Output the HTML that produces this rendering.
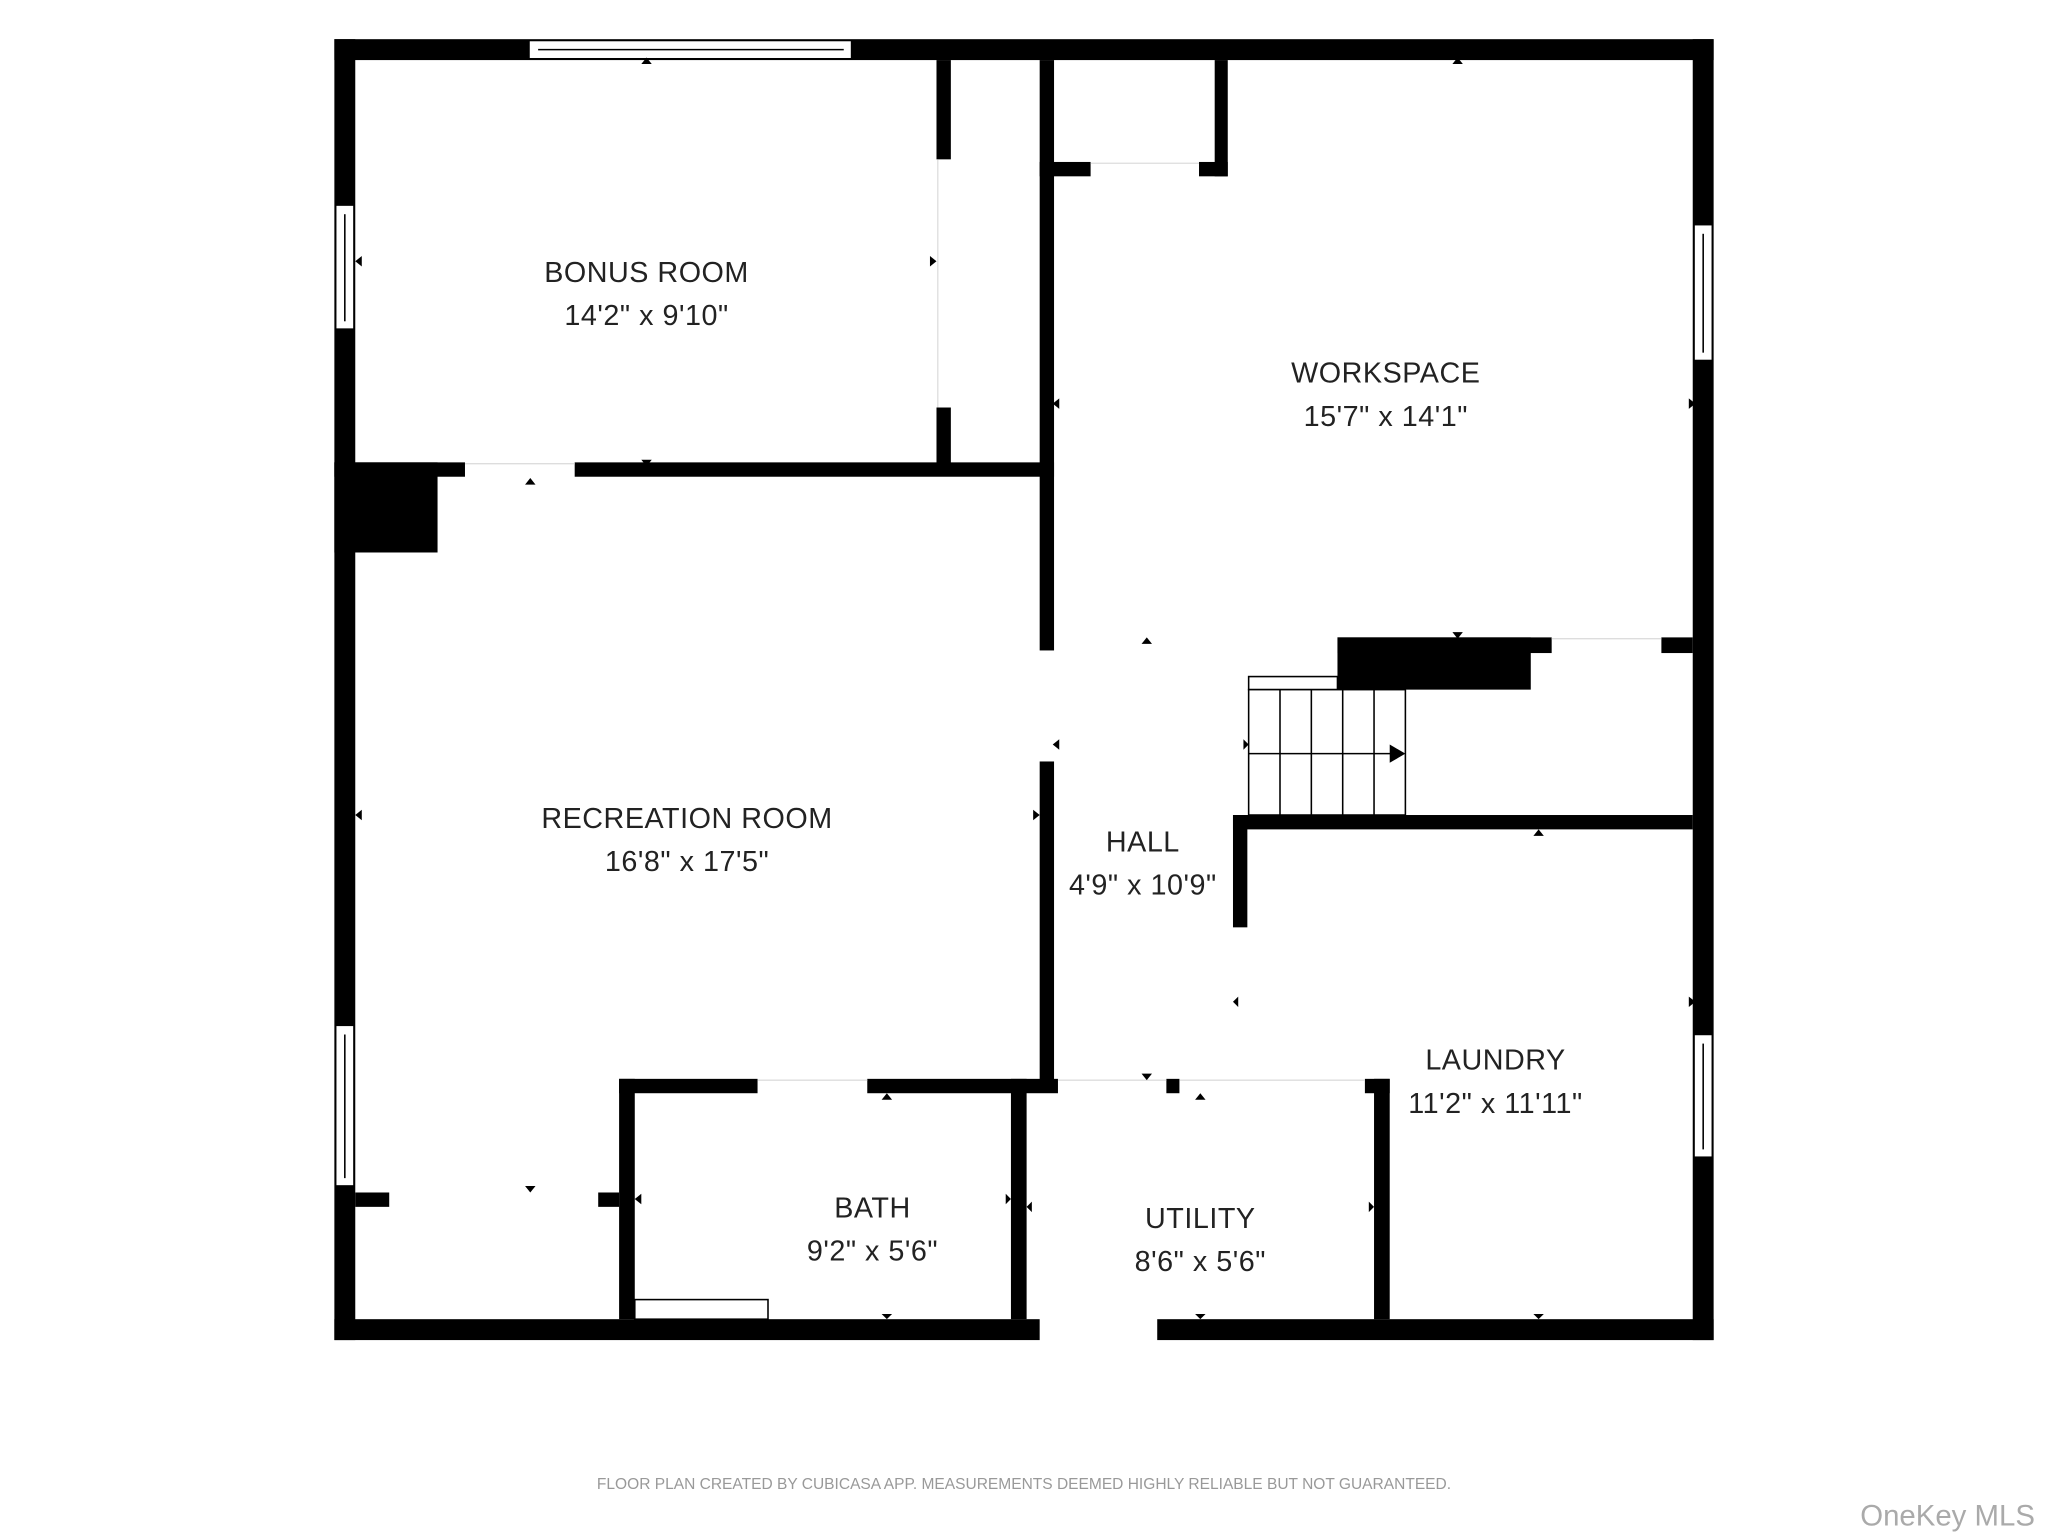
<!DOCTYPE html>
<html><head><meta charset="utf-8"><style>
html,body{margin:0;padding:0;background:#fff;}
svg{display:block;}
text{font-family:"Liberation Sans",sans-serif;}
</style></head><body>
<svg width="2048" height="1536" viewBox="0 0 1568 1176" xmlns="http://www.w3.org/2000/svg">
<rect width="1568" height="1176" fill="#fff"/>
<g fill="#000">
<rect x="256" y="30" width="1056" height="16"/>
<rect x="256" y="30" width="16" height="996"/>
<rect x="1296" y="30" width="16" height="996"/>
<rect x="256" y="1010" width="540" height="16"/>
<rect x="886" y="1010" width="426" height="16"/>
<rect x="256" y="354" width="100" height="11"/>
<rect x="440" y="354" width="367" height="11"/>
<rect x="256" y="354" width="79" height="69"/>
<rect x="717" y="46" width="11" height="76"/>
<rect x="717" y="312" width="11" height="48"/>
<rect x="796" y="46" width="11" height="452"/>
<rect x="796" y="583" width="11" height="250"/>
<rect x="796" y="124" width="39" height="11"/>
<rect x="918" y="124" width="22" height="11"/>
<rect x="930" y="46" width="10" height="89"/>
<rect x="1024" y="488" width="164" height="12"/>
<rect x="1024" y="488" width="148" height="40"/>
<rect x="1272" y="488" width="24" height="12"/>
<rect x="944" y="624" width="352" height="11"/>
<rect x="944" y="624" width="11" height="86"/>
<rect x="474" y="826" width="106" height="11"/>
<rect x="664" y="826" width="146" height="11"/>
<rect x="893" y="826" width="10" height="11"/>
<rect x="1045" y="826" width="19" height="11"/>
<rect x="474" y="826" width="12" height="184"/>
<rect x="458" y="913" width="16" height="11"/>
<rect x="272" y="913" width="26" height="11"/>
<rect x="774" y="826" width="12" height="184"/>
<rect x="1052" y="826" width="12" height="184"/>
</g>
<g fill="#fff" stroke="#000" stroke-width="1.2">
<rect x="405" y="31" width="247" height="14"/>
<line x1="412" y1="38" x2="646" y2="38"/>
<rect x="257" y="157" width="14" height="95"/>
<line x1="264" y1="164" x2="264" y2="246"/>
<rect x="257" y="785" width="14" height="123"/>
<line x1="264" y1="792" x2="264" y2="902"/>
<rect x="1297" y="172" width="14" height="104"/>
<line x1="1304" y1="179" x2="1304" y2="270"/>
<rect x="1297" y="792" width="14" height="94"/>
<line x1="1304" y1="799" x2="1304" y2="880"/>
<rect x="486" y="995" width="102" height="15"/>
<rect x="956" y="518" width="68" height="10"/>
<rect x="956" y="528" width="120" height="96"/>
</g>
<g stroke="#000" stroke-width="1.2">
<line x1="980" y1="528" x2="980" y2="624"/>
<line x1="1004" y1="528" x2="1004" y2="624"/>
<line x1="1028" y1="528" x2="1028" y2="624"/>
<line x1="1052" y1="528" x2="1052" y2="624"/>
<line x1="956" y1="577" x2="1068" y2="577"/>
</g>
<g stroke="#ddd" stroke-width="1">
<line x1="356" y1="355" x2="440" y2="355"/>
<line x1="835" y1="125" x2="918" y2="125"/>
<line x1="1188" y1="489" x2="1272" y2="489"/>
<line x1="580" y1="827" x2="664" y2="827"/>
<line x1="810" y1="827" x2="893" y2="827"/>
<line x1="903" y1="827" x2="1045" y2="827"/>
<line x1="718" y1="122" x2="718" y2="312"/>
</g>
<g fill="#000">
<polygon points="1064,570 1076,577 1064,584"/>
<polygon points="491,49 499,49 495,44"/>
<polygon points="491,352 499,352 495,357"/>
<polygon points="402,371 410,371 406,366"/>
<polygon points="277,196 277,204 272,200"/>
<polygon points="712,196 712,204 717,200"/>
<polygon points="1112,49 1120,49 1116,44"/>
<polygon points="811,305 811,313 806,309"/>
<polygon points="1293,305 1293,313 1298,309"/>
<polygon points="1112,484 1120,484 1116,489"/>
<polygon points="874,493 882,493 878,488"/>
<polygon points="811,566 811,574 806,570"/>
<polygon points="952,566 952,574 956,570"/>
<polygon points="277,620 277,628 272,624"/>
<polygon points="791,620 791,628 796,624"/>
<polygon points="1174,640 1182,640 1178,635"/>
<polygon points="948,763 948,771 944,767"/>
<polygon points="1293,763 1293,771 1298,767"/>
<polygon points="874,822 882,822 878,827"/>
<polygon points="915,842 923,842 919,837"/>
<polygon points="675,842 683,842 679,837"/>
<polygon points="402,908 410,908 406,913"/>
<polygon points="491,914 491,922 486,918"/>
<polygon points="770,914 770,922 774,918"/>
<polygon points="790,920 790,928 786,924"/>
<polygon points="1048,920 1048,928 1052,924"/>
<polygon points="675,1006 683,1006 679,1010"/>
<polygon points="915,1006 923,1006 919,1010"/>
<polygon points="1174,1006 1182,1006 1178,1010"/>
</g>
<g font-size="22" fill="#222" text-anchor="middle" letter-spacing="0.4">
<text x="495" y="216">BONUS ROOM</text>
<text x="495" y="249">14'2" x 9'10"</text>
<text x="1061" y="293">WORKSPACE</text>
<text x="1061" y="326">15'7" x 14'1"</text>
<text x="526" y="634">RECREATION ROOM</text>
<text x="526" y="667">16'8" x 17'5"</text>
<text x="875" y="652">HALL</text>
<text x="875" y="685">4'9" x 10'9"</text>
<text x="1145" y="819">LAUNDRY</text>
<text x="1145" y="852">11'2" x 11'11"</text>
<text x="668" y="932">BATH</text>
<text x="668" y="965">9'2" x 5'6"</text>
<text x="919" y="940">UTILITY</text>
<text x="919" y="973">8'6" x 5'6"</text>
</g>
<text x="784" y="1140" font-size="11.9" fill="#999" text-anchor="middle">FLOOR PLAN CREATED BY CUBICASA APP. MEASUREMENTS DEEMED HIGHLY RELIABLE BUT NOT GUARANTEED.</text>
<text x="1558" y="1168" font-size="22.5" fill="#aaa" text-anchor="end">OneKey MLS</text>
</svg>
</body></html>
